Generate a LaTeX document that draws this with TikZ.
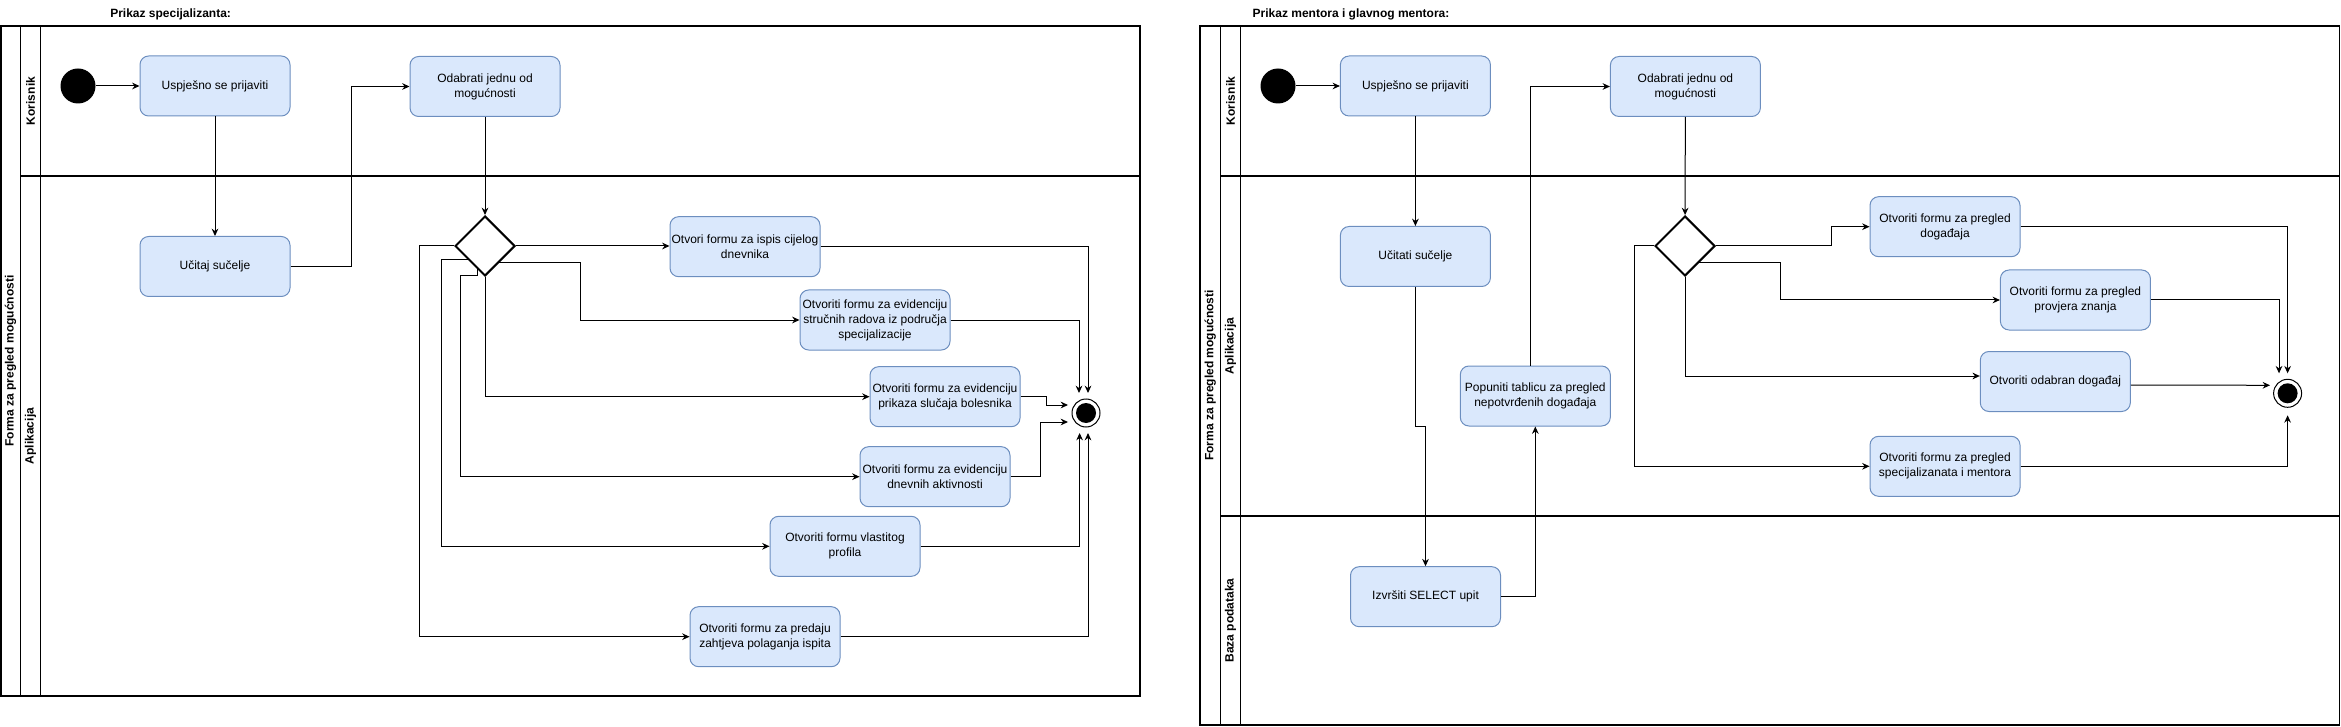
\documentclass[tikz,border=0pt]{standalone}
\usepackage{fontspec}
\setmainfont{Liberation Sans}
\usetikzlibrary{shapes.geometric,arrows.meta,calc}
\definecolor{boxfill}{HTML}{DAE8FC}
\definecolor{boxline}{HTML}{6C8EBF}
\begin{document}
\begin{tikzpicture}[x=0.75pt,y=-0.75pt,
  act/.style={rectangle, rounded corners=6.5pt, draw=boxline, fill=boxfill, line width=0.75pt, minimum width=112.5pt, minimum height=45pt, inner sep=1pt, align=center, font=\fontsize{9}{11.25}\selectfont},
  dec/.style={diamond, draw, line width=1.5pt, minimum width=45pt, minimum height=45pt, inner sep=0pt, aspect=1, fill=white},
  startst/.style={circle, fill=black, minimum size=26.25pt, inner sep=0pt},
  endst/.style={circle, draw, line width=0.75pt, fill=white, minimum size=21pt, inner sep=0pt, path picture={\fill[black] (path picture bounding box.center) circle (7.5pt);}},
  flow/.style={draw, line width=0.75pt, -{Stealth[length=5.5pt,width=5pt]}},
  pool/.style={draw, line width=0.85pt},
  lanelbl/.style={rotate=90, inner sep=0pt, font=\fontsize{9}{11}\selectfont\bfseries},
  title/.style={anchor=west, inner sep=0pt, font=\fontsize{9}{11}\selectfont\bfseries}
]
\useasboundingbox (0,0) rectangle (2341,727);

% ---------------- left pool ----------------
\draw[pool] (1,26) rectangle (1140,696);
\draw[pool] (20.3,26) -- (20.3,696);
\draw[pool] (40.6,26) -- (40.6,696);
\draw[pool] (20.3,176) -- (1140,176);
\node[lanelbl] (pl1) at (10.5,361) {Forma za pregled mogućnosti};
\node[lanelbl] (k1) at (30.5,101) {Korisnik};
\node[lanelbl] (a1) at (30.5,436) {Aplikacija};
\node[title] (t1) at (110,14.5) {Prikaz specijalizanta:};

\node[startst] (st1) at (78,86) {};
\node[act] (usp1) at (215,86) {Uspješno se prijaviti};
\node[act] (odab1) at (485,86.5) {Odabrati jednu od\\mogućnosti};
\node[act] (ucit1) at (215,266.5) {Učitaj sučelje};
\node[dec] (dia1) at (485,246) {};
\node[act] (b1) at (745,246.7) {Otvori formu za ispis cijelog\\dnevnika};
\node[act] (b2) at (875,320) {Otvoriti formu za evidenciju\\stručnih radova iz područja\\specijalizacije};
\node[act] (b3) at (945,396.7) {Otvoriti formu za evidenciju\\prikaza slučaja bolesnika};
\node[act] (b4) at (935,476.7) {Otvoriti formu za evidenciju\\dnevnih aktivnosti};
\node[act] (b5) at (845,546.3) {Otvoriti formu vlastitog\\profila};
\node[act] (b6) at (765,636.7) {Otvoriti formu za predaju\\zahtjeva polaganja ispita};
\node[endst] (end1) at (1086,413) {};

\coordinate (e1t1) at ($(end1.center)+(-7,-20)$);
\coordinate (e1t2) at ($(end1.center)+(2,-20)$);
\coordinate (e1l1) at ($(end1.center)+(-18,-8)$);
\coordinate (e1l2) at ($(end1.center)+(-18,9)$);
\coordinate (e1b1) at ($(end1.center)+(-6.4,20)$);
\coordinate (e1b2) at ($(end1.center)+(2,20)$);

\draw[flow] (st1) -- (usp1);
\draw[flow] (usp1) -- (ucit1);
\draw[flow] (ucit1.east) -- ++(60.5,0) |- (odab1.west);
\draw[flow] (odab1) -- (dia1);
\draw[flow] (dia1.east) -- (dia1.east -| b1.west);
\draw[flow] (b1.east) -| (e1t2);
\draw[flow] ($(dia1.center)+(13,17)$) -- ++(82.4,0) |- (b2.west);
\draw[flow] (b2.east) -| (e1t1);
\draw[flow] (dia1.south) |- (b3.west);
\draw[flow] (b3.east) -- ++(25.5,0) |- (e1l1);
\draw[flow] ($(dia1.center)+(-7.5,22.5)$) -- ++(0,7.5) -- ++(-17,0) |- (b4.west);
\draw[flow] (b4.east) -- ++(30.4,0) |- (e1l2);
\draw[flow] ($(dia1.center)+(-16,14)$) -- ++(-28,0) |- (b5.west);
\draw[flow] (b5.east) -| (e1b1);
\draw[flow] (dia1.west) -- ++(-35,0) |- (b6.west);
\draw[flow] (b6.east) -| (e1b2);

% ---------------- right pool ----------------
\draw[pool] (1200,26) rectangle (2339.5,725);
\draw[pool] (1220.6,26) -- (1220.6,725);
\draw[pool] (1240.5,26) -- (1240.5,725);
\draw[pool] (1220.6,176) -- (2339.5,176);
\draw[pool] (1220.6,516) -- (2339.5,516);
\node[lanelbl] (pl2) at (1210.3,375.5) {Forma za pregled mogućnosti};
\node[lanelbl] (k2) at (1230.5,101) {Korisnik};
\node[lanelbl] (a2) at (1230.5,346) {Aplikacija};
\node[lanelbl] (bp2) at (1230.5,620.5) {Baza podataka};
\node[title] (t2) at (1252.4,14.5) {Prikaz mentora i glavnog mentora:};

\node[startst] (st2) at (1278,86) {};
\node[act] (usp2) at (1415.4,86) {Uspješno se prijaviti};
\node[act] (odab2) at (1685.4,86.5) {Odabrati jednu od\\mogućnosti};
\node[act] (ucit2) at (1415.4,256.5) {Učitati sučelje};
\node[act] (pop2) at (1535.3,396) {Popuniti tablicu za pregled\\nepotvrđenih događaja};
\node[act] (izv2) at (1425.5,596.7) {Izvršiti SELECT upit};
\node[dec] (dia2) at (1685,246) {};
\node[act] (c1) at (1945,226.7) {Otvoriti formu za pregled\\događaja};
\node[act] (c2) at (2075.4,300) {Otvoriti formu za pregled\\provjera znanja};
\node[act] (c3) at (2055.3,381.5) {Otvoriti odabran događaj};
\node[act] (c4) at (1945,466.3) {Otvoriti formu za pregled\\specijalizanata i mentora};
\node[endst] (end2) at (2287.6,393.3) {};

\coordinate (e2t1) at ($(end2.center)+(-8.6,-20)$);
\coordinate (e2t2) at ($(end2.center)+(0,-20)$);
\coordinate (e2l) at ($(end2.center)+(-17.6,-8)$);
\coordinate (e2b) at ($(end2.center)+(0,22)$);

\draw[flow] (st2) -- (usp2);
\draw[flow] (usp2) -- (ucit2);
\draw[flow] (ucit2.south) -- ++(0,139.5) -| (izv2.north);
\draw[flow] (izv2.east) -| (pop2.south);
\draw[flow] ($(pop2.north)+(-4.7,0)$) |- (odab2.west);
\draw[flow] (odab2) -- (dia2);
\draw[flow] (dia2.east) -- ++(115.6,0) |- (c1.west);
\draw[flow] (c1.east) -| (e2t2);
\draw[flow] ($(dia2.center)+(13,17)$) -- ++(82.5,0) |- (c2.west);
\draw[flow] (c2.east) -| (e2t1);
\draw[flow] (dia2.south) |- ($(c3.west)+(0,-5.5)$);
\draw[flow] ($(c3.east)+(0,3.5)$) -- (e2l);
\draw[flow] (dia2.west) -- ++(-19.6,0) |- (c4.west);
\draw[flow] (c4.east) -| (e2b);
\end{tikzpicture}
\end{document}
